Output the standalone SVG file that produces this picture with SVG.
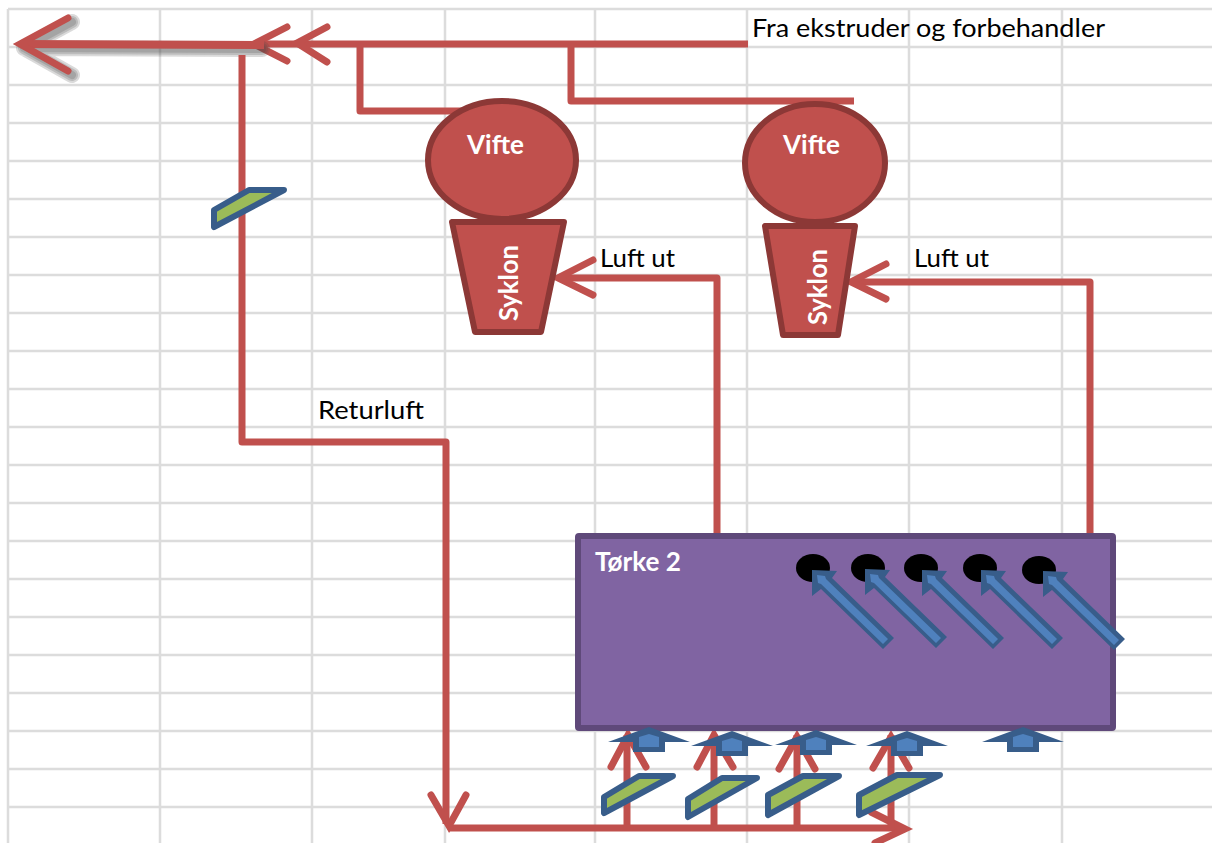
<svg xmlns="http://www.w3.org/2000/svg" width="1212" height="843" viewBox="0 0 1212 843">
<style>
.grid{stroke:#dcdcdc;stroke-width:2.5;fill:none}
.pipe{stroke:#c0504d;stroke-width:7;fill:none;stroke-linejoin:round}
.head{stroke:#c0504d;stroke-width:7;fill:none;stroke-linejoin:miter;stroke-linecap:round}
.shade{stroke:#444;fill:none;stroke-linecap:round;stroke-linejoin:round;stroke-opacity:.2}
.red{fill:#c0504d;stroke:#8c3836;stroke-width:6;stroke-linejoin:round}
.dry{fill:#8064a2;stroke:#5f497a;stroke-width:6;stroke-linejoin:round}
.valve{fill:#9bbb59;stroke:#385d8a;stroke-width:6;stroke-linejoin:round}
.dark{fill:#385d8a}
.light{fill:#4f81bd}
.t{font-family:"Lato","Open Sans",sans-serif;font-size:25px;fill:#000}
.w{font-family:"Lato","Open Sans",sans-serif;font-size:26px;font-weight:700;fill:#fff}
</style>
<defs>
<g id="up"><polygon class="dark" points="0,0 41,15 16,15 16,25 -16,25 -16,15 -41,15"/><polygon class="light" points="0,7 10,10 10,20 -10,20 -10,10"/></g>
<g id="diag"><polygon class="dark" points="0,0 25,1 20,8 82,68 71,79 9,19 0,26"/><polygon class="light" points="5,5 13,6 14,9 76,69 71,74 9,14 6,13"/></g>
<path id="shadow-path" d="M262 49L24 48M72 22L24 48L72 75"/>
</defs>
<g id="grid" class="grid">
<path d="M8 9V843M160 9V843M312 9V843M445 9V843M595 9V843M747 9V843M909 9V843M1062 9V843"/>
<path d="M8 9H1212M8 47H1212M8 85H1212M8 123H1212M8 161H1212M8 199H1212M8 237H1212M8 275H1212M8 313H1212M8 351H1212M8 389H1212M8 427H1212M8 465H1212M8 503H1212M8 541H1212M8 579H1212M8 617H1212M8 655H1212M8 693H1212M8 731H1212M8 769H1212M8 807H1212"/>
</g>
<g id="connectors">
<path class="pipe" d="M748 44H262"/>
<path class="head" d="M287 27L254 44L287 61"/>
<path class="head" d="M327 27L297 43L327 62"/>
<path class="pipe" d="M360 44V111H466"/>
<path class="pipe" d="M571 44V101H854"/>
<use href="#shadow-path" class="shade" stroke-width="16"/>
<use href="#shadow-path" class="shade" stroke-width="12"/>
<use href="#shadow-path" class="shade" stroke-width="8"/>
<path class="pipe" style="stroke-width:8" d="M264 45L20 44"/>
<path class="head" d="M68 18L20 44L68 71"/>
<path class="pipe" d="M242 55V442H446V824"/>
<path class="head" d="M431 795L449 826L466 795"/>
<path class="pipe" d="M449 828H903"/>
<path class="head" d="M871 812L905 829L875 843"/>
<path class="pipe" d="M627 828V735"/>
<path class="head" d="M611 767L628 735L646 767"/>
<path class="pipe" d="M714 828V735"/>
<path class="head" d="M697 767L714 735L733 767"/>
<path class="pipe" d="M797 828V735"/>
<path class="head" d="M779 769L797 737L815 769"/>
<path class="pipe" d="M891 828V735"/>
<path class="head" d="M873 768L891 737L909 768"/>
<path class="pipe" d="M717 535V278H560"/>
<path class="head" d="M593 260L558 278L593 295"/>
<path class="pipe" d="M1090 537V282H853"/>
<path class="head" d="M886 264L851 282L886 299"/>
</g>
<g id="valve-return"><polygon class="valve" points="214,210 249,190 284,190 214,227"/></g>
<g id="vifte-1"><ellipse class="red" cx="502" cy="160" rx="74" ry="59"/><text class="w" x="467" y="154" textLength="57" lengthAdjust="spacingAndGlyphs">Vifte</text></g>
<g id="syklon-1"><polygon class="red" points="452,222 564,222 541,332 475,332"/><text class="w" transform="translate(518 321) rotate(-90)" textLength="76" lengthAdjust="spacingAndGlyphs">Syklon</text></g>
<g id="vifte-2"><ellipse class="red" cx="815" cy="163" rx="70" ry="59"/><text class="w" x="783" y="154" textLength="57" lengthAdjust="spacingAndGlyphs">Vifte</text></g>
<g id="syklon-2"><polygon class="red" points="765,226 855,226 838,335 783,335"/><text class="w" transform="translate(827 325) rotate(-90)" textLength="76" lengthAdjust="spacingAndGlyphs">Syklon</text></g>
<g id="torke-2">
<rect class="dry" x="578" y="536" width="535" height="192" rx="1"/>
<text class="w" x="595" y="571" textLength="86" lengthAdjust="spacingAndGlyphs">Tørke 2</text>
<ellipse cx="813" cy="568" rx="17" ry="14"/><ellipse cx="868" cy="568" rx="17" ry="14"/><ellipse cx="921" cy="568" rx="17" ry="14"/><ellipse cx="980" cy="568" rx="17" ry="14"/><ellipse cx="1039" cy="570" rx="17" ry="14"/>
</g>
<g id="inlets-diagonal">
<use href="#diag" x="812" y="570"/>
<use href="#diag" x="865" y="569"/>
<use href="#diag" x="922" y="570"/>
<use href="#diag" x="981" y="570"/>
<use href="#diag" x="1043" y="571"/>
</g>
<g id="inlets-bottom">
<use href="#up" x="649" y="727"/>
<use href="#up" x="732" y="731"/>
<use href="#up" x="816" y="730"/>
<use href="#up" x="907" y="731"/>
<use href="#up" x="1023" y="727"/>
</g>
<g id="valves-bottom">
<polygon class="valve" points="604,797 639,776 673,776 604,813"/>
<polygon class="valve" points="688,799 722,778 757,778 688,817"/>
<polygon class="valve" points="768,795 803,776 839,776 768,815"/>
<polygon class="valve" points="859,795 897,775 940,775 859,815"/>
</g>
<g id="labels">
<text class="t" x="752" y="37" textLength="353" lengthAdjust="spacingAndGlyphs">Fra ekstruder og forbehandler</text>
<text class="t" x="600" y="267" textLength="75" lengthAdjust="spacingAndGlyphs">Luft ut</text>
<text class="t" x="914" y="267" textLength="75" lengthAdjust="spacingAndGlyphs">Luft ut</text>
<text class="t" x="318" y="419" textLength="106" lengthAdjust="spacingAndGlyphs">Returluft</text>
</g>
</svg>
